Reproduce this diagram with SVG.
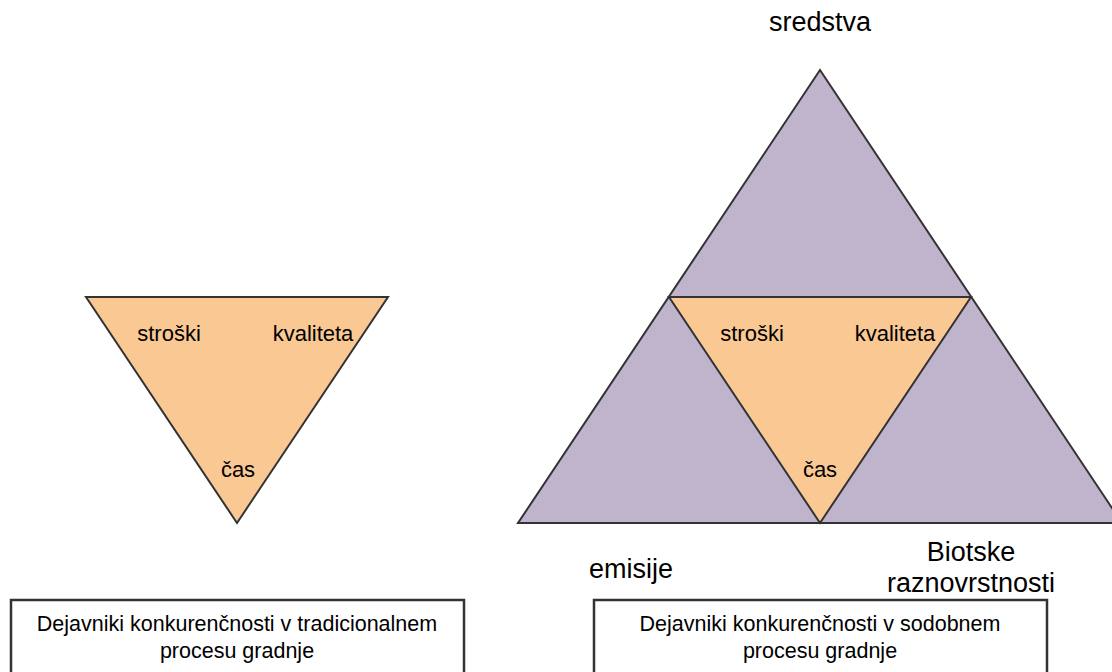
<svg xmlns="http://www.w3.org/2000/svg" width="1112" height="672" viewBox="0 0 1112 672">
<style>
.t{font-family:"Liberation Sans",Arial,sans-serif;fill:#000;text-anchor:middle}
.s20{font-size:22px}
.s24{font-size:27px}
.s18{font-size:21.5px}
.orange{fill:#FAC893;stroke:#333;stroke-width:2;stroke-linejoin:miter}
.purple{fill:#C0B3CC;stroke:#333;stroke-width:2}
.box{fill:#fff;stroke:#333;stroke-width:2.5}
</style>
<rect width="1112" height="672" fill="#fff"/>
<g id="left-triangle">
<polygon class="orange" points="86,297 388,297 237,523"/>
<text class="t s20" x="169" y="341">stroški</text>
<text class="t s20" x="313" y="341">kvaliteta</text>
<text class="t s20" x="238" y="477">čas</text>
</g>
<g id="right-pyramid">
<polygon class="purple" points="820,70 1122,523 518,523"/>
<polygon class="orange" points="669,297 971,297 820,523"/>
<text class="t s20" x="752" y="341">stroški</text>
<text class="t s20" x="895" y="341">kvaliteta</text>
<text class="t s20" x="820" y="477">čas</text>
</g>
<g id="label-sredstva"><text class="t s24" x="820" y="31">sredstva</text></g>
<g id="label-emisije"><text class="t s24" x="631" y="578">emisije</text></g>
<g id="label-biotske"><text class="t s24" x="971" y="561">Biotske</text><text class="t s24" x="971" y="592">raznovrstnosti</text></g>
<g id="box-left">
<rect class="box" x="11" y="600" width="453" height="80"/>
<text class="t s18" x="237" y="631">Dejavniki konkurenčnosti v tradicionalnem</text>
<text class="t s18" x="237" y="658">procesu gradnje</text>
</g>
<g id="box-right">
<rect class="box" x="594" y="600" width="453" height="80"/>
<text class="t s18" x="820" y="631">Dejavniki konkurenčnosti v sodobnem</text>
<text class="t s18" x="820" y="658">procesu gradnje</text>
</g>
<g id="connectors"></g>
</svg>
